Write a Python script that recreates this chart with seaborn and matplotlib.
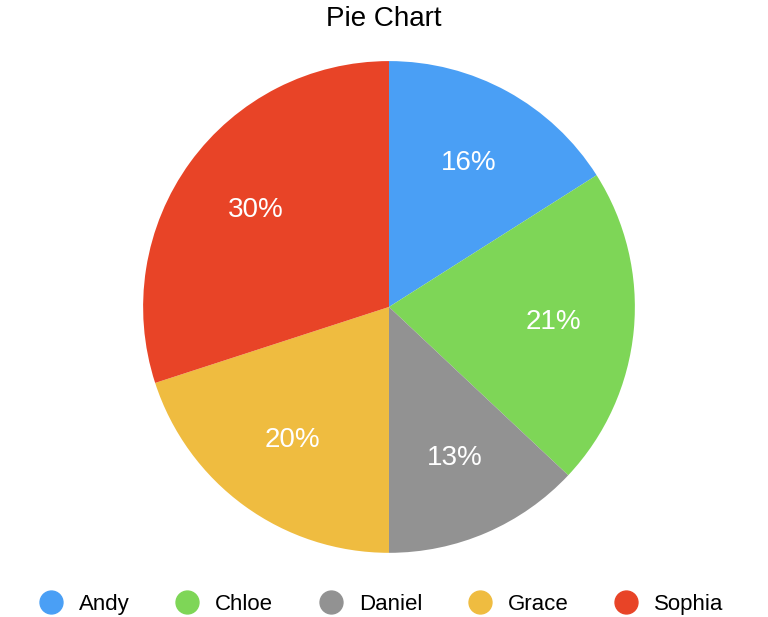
import matplotlib
matplotlib.use("Agg")
import matplotlib.pyplot as plt
from matplotlib.lines import Line2D
import seaborn as sns

names = ["Andy", "Chloe", "Daniel", "Grace", "Sophia"]
shares = [16, 21, 13, 20, 30]
colours = ["#4a9ff5", "#7ed657", "#929292", "#efbc40", "#e84427"]

sns.set_theme(style="white")
plt.rcParams["font.family"] = ["Liberation Sans", "DejaVu Sans"]
palette = sns.color_palette(colours)

fig = plt.figure(figsize=(7.68, 6.17), dpi=100)
ax = fig.add_axes([0.186, 0.104, 0.641, 0.797])

wedges, texts, autotexts = ax.pie(
    shares, colors=palette, startangle=90, counterclock=False,
    autopct="%d%%", pctdistance=0.67, radius=1.0,
    wedgeprops=dict(linewidth=0),
    textprops=dict(color="white", fontsize=20),
)
ax.set_xlim(-1, 1)
ax.set_ylim(-1, 1)
ax.set_aspect("equal")

fig.text(0.5, 0.969, "Pie Chart", ha="center", va="center",
         fontsize=20, color="black")

handles = [
    Line2D([], [], marker="o", linestyle="", markersize=16.5,
           markerfacecolor=c, markeredgecolor=c)
    for c in palette
]
fig.legend(handles, names, loc="center", bbox_to_anchor=(0.497, 0.02),
           ncol=5, frameon=False, fontsize=16, handletextpad=0.75,
           columnspacing=2.1, handlelength=1.0, labelcolor="black")

fig.savefig("out.png", dpi=100)
plt.close(fig)
